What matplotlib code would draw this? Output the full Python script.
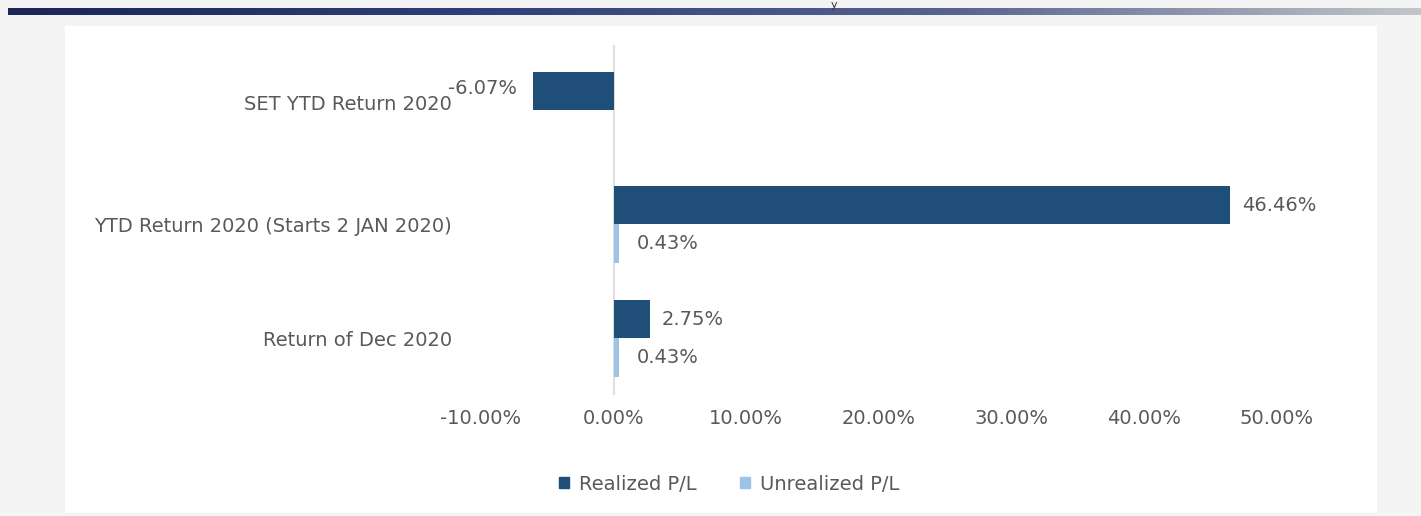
import numpy as np
import matplotlib
matplotlib.use("Agg")
import matplotlib.pyplot as plt
from matplotlib.patches import Rectangle, Patch
from matplotlib.transforms import ScaledTranslation

categories = ["SET YTD Return 2020", "YTD Return 2020 (Starts 2 JAN 2020)", "Return of Dec 2020"]
realized = [-6.07, 46.46, 2.75]
unrealized = [np.nan, 0.43, 0.43]
xticks = [-10, 0, 10, 20, 30, 40, 50]

DARK = "#1F4E79"
LIGHT = "#9DC3E6"
TXT = "#595959"
FS = 14

plt.rcParams["font.family"] = ["DejaVu Sans"]

fig = plt.figure(figsize=(14.21, 5.16), dpi=100)
fig.patch.set_facecolor("#f4f4f4")

# white panel behind the chart
fig.patches.append(Rectangle((65 / 1421, 1 - 513 / 516), (1377 - 65) / 1421, (513 - 26) / 516,
                             transform=fig.transFigure, facecolor="white", edgecolor="none", zorder=-5))

# gradient band at the top
band = fig.add_axes([8 / 1421, 1 - 15 / 516, 1 - 8 / 1421, 7 / 516])
grad = np.linspace(0, 1, 512)
cmap = matplotlib.colors.LinearSegmentedColormap.from_list(
    "band", ["#1b2656", "#2f3f78", "#56628f", "#c3c6c9"])
band.imshow(grad[None, :], aspect="auto", cmap=cmap)
band.axis("off")
fig.text(834 / 1421, 1.0, "y", ha="center", va="top", fontsize=8, color="#333333")

ax = fig.add_axes([481 / 1421, 1 - 395 / 516, (1277 - 481) / 1421, (395 - 45) / 516])
ax.set_facecolor("none")

y = np.arange(len(categories))
h = 0.336
ax.barh(y - h / 2, realized, height=h, color=DARK, label="Realized P/L", zorder=2)
ax.barh(y + h / 2, unrealized, height=h, color=LIGHT, label="Unrealized P/L", zorder=2)

for i, v in enumerate(realized):
    if v < 0:
        ax.text(v - 1.2, i - h / 2 - 0.02, f"{v:.2f}%", ha="right", va="center", fontsize=FS, color=TXT)
    else:
        ax.text(v + 0.9, i - h / 2, f"{v:.2f}%", ha="left", va="center", fontsize=FS, color=TXT)
for i, v in enumerate(unrealized):
    if not np.isnan(v):
        ax.text(v + 1.3, i + h / 2, f"{v:.2f}%", ha="left", va="center", fontsize=FS, color=TXT)

ax.axvline(0, color="#d9d9d9", linewidth=1.2, zorder=1)

ax.set_xlim(-10, 50)
ax.set_ylim(2.497, -0.573)
ax.set_xticks(xticks)
ax.set_xticklabels([f"{t:.2f}%" for t in xticks], fontsize=FS, color=TXT)
ax.set_yticks(y)
ax.set_yticklabels(categories, fontsize=FS, color=TXT)
ax.tick_params(axis="both", length=0)
ax.tick_params(axis="x", pad=10)
ax.tick_params(axis="y", pad=21)
# first category label sits a bit higher in the original
lab = ax.get_yticklabels()[0]
lab.set_transform(lab.get_transform() + ScaledTranslation(0, 8 / 100, fig.dpi_scale_trans))
for s in ax.spines.values():
    s.set_visible(False)

handles = [Patch(color=DARK, label="Realized P/L"), Patch(color=LIGHT, label="Unrealized P/L")]
fig.legend(handles=handles, loc="center", bbox_to_anchor=(729 / 1421, 1 - 484 / 516), ncol=2,
           frameon=False, fontsize=FS, labelcolor=TXT, handlelength=0.55, handleheight=0.55,
           columnspacing=2.2, handletextpad=0.5)

fig.savefig("out.png", dpi=100, facecolor=fig.get_facecolor())
